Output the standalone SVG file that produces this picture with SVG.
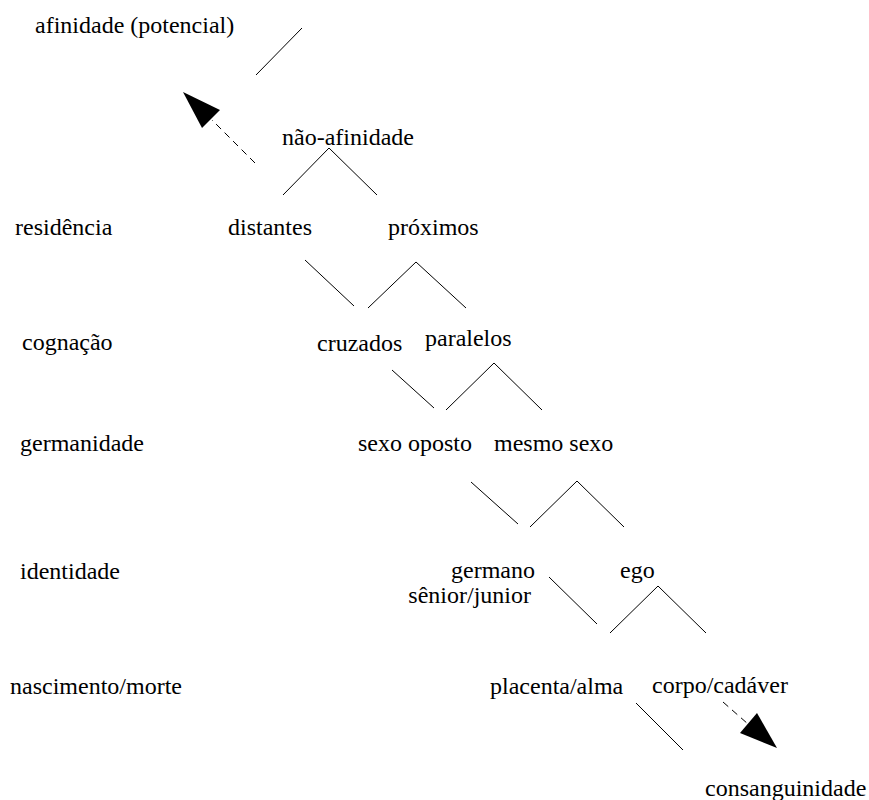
<svg xmlns="http://www.w3.org/2000/svg" width="869" height="800" viewBox="0 0 869 800">
<style>
text{font-family:'Liberation Serif','Times New Roman','DejaVu Serif',serif;font-size:24px;fill:#000}
.l{stroke:#000;stroke-width:1;fill:none}
.d{stroke:#000;stroke-width:1;fill:none;stroke-dasharray:7,5}
.h{fill:#000;stroke:none}
</style>
<rect width="869" height="800" fill="#fff"/>
<g id="labels">
<text x="35" y="33">afinidade (potencial)</text>
<text x="15" y="235">residência</text>
<text x="22" y="350">cognação</text>
<text x="20" y="451">germanidade</text>
<text x="20" y="579">identidade</text>
<text x="10" y="694">nascimento/morte</text>
</g>
<g id="n-naoafinidade"><text x="282" y="145">não-afinidade</text></g>
<g id="n-distantes"><text x="228" y="235">distantes</text></g>
<g id="n-proximos"><text x="388" y="235">próximos</text></g>
<g id="n-cruzados"><text x="317" y="351">cruzados</text></g>
<g id="n-paralelos"><text x="425" y="346">paralelos</text></g>
<g id="n-sexooposto"><text x="358" y="451">sexo oposto</text></g>
<g id="n-mesmosexo"><text x="494" y="451">mesmo sexo</text></g>
<g id="n-germano"><text x="535" y="578" text-anchor="end">germano</text><text x="531" y="603" text-anchor="end">sênior/junior</text></g>
<g id="n-ego"><text x="620" y="578">ego</text></g>
<g id="n-placenta"><text x="490" y="694">placenta/alma</text></g>
<g id="n-corpo"><text x="652" y="693">corpo/cadáver</text></g>
<g id="n-consanguinidade"><text x="705" y="796">consanguinidade</text></g>
<g id="connectors">
<line class="l" x1="256" y1="75" x2="302" y2="28"/>
<line class="d" x1="255" y1="163" x2="212" y2="120"/>
<polygon class="h" points="183,92 202,128 220,110"/>
<polyline class="l" points="283,195 329,148 377,195"/>
<line class="l" x1="305" y1="260" x2="354" y2="306"/>
<polyline class="l" points="368,308 416,262 466,308"/>
<line class="l" x1="392" y1="370" x2="434" y2="408"/>
<polyline class="l" points="446,410 494,363 542,410"/>
<line class="l" x1="471" y1="482" x2="518" y2="524"/>
<polyline class="l" points="530,527 577,481 624,527"/>
<line class="l" x1="549" y1="577" x2="597" y2="624"/>
<polyline class="l" points="610,633 658,586 706,633"/>
<line class="l" x1="636" y1="703" x2="683" y2="750"/>
<line class="d" x1="723" y1="702" x2="748" y2="724"/>
<polygon class="h" points="777,748 740,733 757,713"/>
</g>
</svg>
